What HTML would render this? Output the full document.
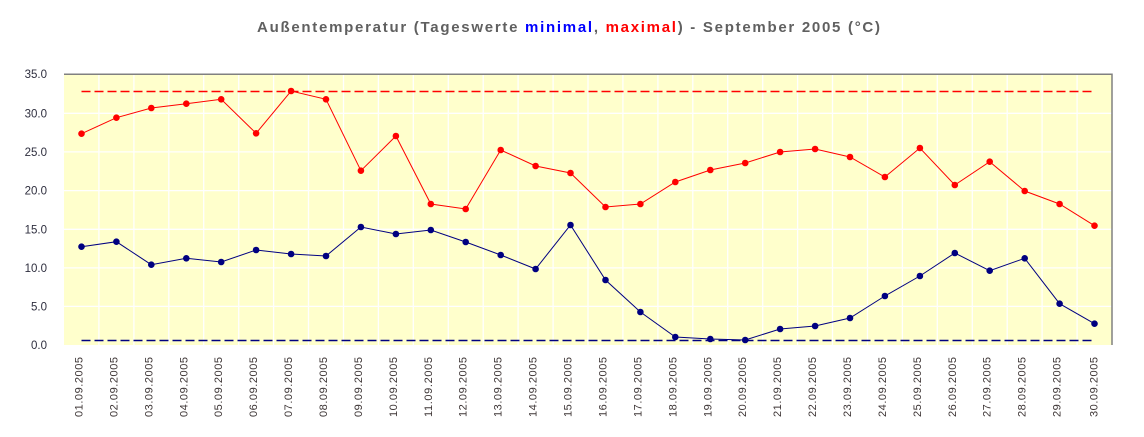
<!DOCTYPE html>
<html>
<head>
<meta charset="utf-8">
<style>
html,body{margin:0;padding:0;background:#fff;}
svg{display:block;}
text{font-family:"Liberation Sans",Arial,sans-serif;}
</style>
</head>
<body>
<svg width="1144" height="437" viewBox="0 0 1144 437" xmlns="http://www.w3.org/2000/svg">
<rect x="0" y="0" width="1144" height="437" fill="#fff"/>
<!-- title -->
<text x="257" y="32" font-size="15" font-weight="bold" fill="#606060" textLength="623" lengthAdjust="spacing">Außentemperatur (Tageswerte <tspan fill="#0000ff">minimal</tspan>, <tspan fill="#ff0000">maximal</tspan>) - September 2005 (°C)</text>

<!-- plot area -->
<rect x="64" y="74" width="1048" height="271" fill="#ffffcc"/>
<g stroke="#ffffff" stroke-width="1.3">
<line x1="64" y1="113.3" x2="1112" y2="113.3"/>
<line x1="64" y1="151.9" x2="1112" y2="151.9"/>
<line x1="64" y1="190.6" x2="1112" y2="190.6"/>
<line x1="64" y1="229.3" x2="1112" y2="229.3"/>
<line x1="64" y1="267.9" x2="1112" y2="267.9"/>
<line x1="64" y1="306.4" x2="1112" y2="306.4"/>
<line x1="98.9" y1="74" x2="98.9" y2="345"/>
<line x1="133.9" y1="74" x2="133.9" y2="345"/>
<line x1="168.8" y1="74" x2="168.8" y2="345"/>
<line x1="203.7" y1="74" x2="203.7" y2="345"/>
<line x1="238.7" y1="74" x2="238.7" y2="345"/>
<line x1="273.6" y1="74" x2="273.6" y2="345"/>
<line x1="308.5" y1="74" x2="308.5" y2="345"/>
<line x1="343.5" y1="74" x2="343.5" y2="345"/>
<line x1="378.4" y1="74" x2="378.4" y2="345"/>
<line x1="413.3" y1="74" x2="413.3" y2="345"/>
<line x1="448.3" y1="74" x2="448.3" y2="345"/>
<line x1="483.2" y1="74" x2="483.2" y2="345"/>
<line x1="518.1" y1="74" x2="518.1" y2="345"/>
<line x1="553.1" y1="74" x2="553.1" y2="345"/>
<line x1="588.0" y1="74" x2="588.0" y2="345"/>
<line x1="622.9" y1="74" x2="622.9" y2="345"/>
<line x1="657.9" y1="74" x2="657.9" y2="345"/>
<line x1="692.8" y1="74" x2="692.8" y2="345"/>
<line x1="727.7" y1="74" x2="727.7" y2="345"/>
<line x1="762.7" y1="74" x2="762.7" y2="345"/>
<line x1="797.6" y1="74" x2="797.6" y2="345"/>
<line x1="832.5" y1="74" x2="832.5" y2="345"/>
<line x1="867.5" y1="74" x2="867.5" y2="345"/>
<line x1="902.4" y1="74" x2="902.4" y2="345"/>
<line x1="937.3" y1="74" x2="937.3" y2="345"/>
<line x1="972.3" y1="74" x2="972.3" y2="345"/>
<line x1="1007.2" y1="74" x2="1007.2" y2="345"/>
<line x1="1042.1" y1="74" x2="1042.1" y2="345"/>
<line x1="1077.1" y1="74" x2="1077.1" y2="345"/>
</g>
<g stroke="#808080" stroke-width="1.5" fill="none">
<polyline points="64,74.3 1112,74.3 1112,345"/>
</g>

<!-- dashed extreme lines -->
<line x1="81.5" y1="91.5" x2="1094.5" y2="91.5" stroke="#ff0000" stroke-width="1.5" stroke-dasharray="9,4"/>
<line x1="81.5" y1="340.5" x2="1094.5" y2="340.5" stroke="#000080" stroke-width="1.5" stroke-dasharray="9,4"/>

<!-- max series -->
<polyline fill="none" stroke="#ff0000" stroke-width="1" points="81.5,133.7 116.4,117.7 151.3,108 186.3,103.7 221.2,99.3 256.1,133.3 291.1,91 326,99.3 360.9,170.7 395.9,136 430.8,204 465.7,209 500.7,150 535.6,166 570.5,173 605.5,207 640.4,204 675.3,182 710.3,170 745.2,163 780.1,152 815.1,149 850,157 884.9,177 919.9,148 954.8,185 989.7,161.7 1024.7,191 1059.6,204 1094.5,225.7"/>
<g fill="#ff0000">
<circle cx="81.5" cy="133.7" r="3.3"/><circle cx="116.4" cy="117.7" r="3.3"/><circle cx="151.3" cy="108" r="3.3"/><circle cx="186.3" cy="103.7" r="3.3"/><circle cx="221.2" cy="99.3" r="3.3"/><circle cx="256.1" cy="133.3" r="3.3"/><circle cx="291.1" cy="91" r="3.3"/><circle cx="326" cy="99.3" r="3.3"/><circle cx="360.9" cy="170.7" r="3.3"/><circle cx="395.9" cy="136" r="3.3"/><circle cx="430.8" cy="204" r="3.3"/><circle cx="465.7" cy="209" r="3.3"/><circle cx="500.7" cy="150" r="3.3"/><circle cx="535.6" cy="166" r="3.3"/><circle cx="570.5" cy="173" r="3.3"/><circle cx="605.5" cy="207" r="3.3"/><circle cx="640.4" cy="204" r="3.3"/><circle cx="675.3" cy="182" r="3.3"/><circle cx="710.3" cy="170" r="3.3"/><circle cx="745.2" cy="163" r="3.3"/><circle cx="780.1" cy="152" r="3.3"/><circle cx="815.1" cy="149" r="3.3"/><circle cx="850" cy="157" r="3.3"/><circle cx="884.9" cy="177" r="3.3"/><circle cx="919.9" cy="148" r="3.3"/><circle cx="954.8" cy="185" r="3.3"/><circle cx="989.7" cy="161.7" r="3.3"/><circle cx="1024.7" cy="191" r="3.3"/><circle cx="1059.6" cy="204" r="3.3"/><circle cx="1094.5" cy="225.7" r="3.3"/>
</g>

<!-- min series -->
<polyline fill="none" stroke="#000080" stroke-width="1" points="81.5,246.7 116.4,241.7 151.3,264.7 186.3,258.3 221.2,262 256.1,250 291.1,254 326,256 360.9,227 395.9,234 430.8,230 465.7,242 500.7,255 535.6,269 570.5,225 605.5,280 640.4,312 675.3,337 710.3,339 745.2,340 780.1,329 815.1,326 850,318 884.9,296 919.9,276 954.8,253 989.7,270.7 1024.7,258.3 1059.6,303.7 1094.5,323.7"/>
<g fill="#000080">
<circle cx="81.5" cy="246.7" r="3.3"/><circle cx="116.4" cy="241.7" r="3.3"/><circle cx="151.3" cy="264.7" r="3.3"/><circle cx="186.3" cy="258.3" r="3.3"/><circle cx="221.2" cy="262" r="3.3"/><circle cx="256.1" cy="250" r="3.3"/><circle cx="291.1" cy="254" r="3.3"/><circle cx="326" cy="256" r="3.3"/><circle cx="360.9" cy="227" r="3.3"/><circle cx="395.9" cy="234" r="3.3"/><circle cx="430.8" cy="230" r="3.3"/><circle cx="465.7" cy="242" r="3.3"/><circle cx="500.7" cy="255" r="3.3"/><circle cx="535.6" cy="269" r="3.3"/><circle cx="570.5" cy="225" r="3.3"/><circle cx="605.5" cy="280" r="3.3"/><circle cx="640.4" cy="312" r="3.3"/><circle cx="675.3" cy="337" r="3.3"/><circle cx="710.3" cy="339" r="3.3"/><circle cx="745.2" cy="340" r="3.3"/><circle cx="780.1" cy="329" r="3.3"/><circle cx="815.1" cy="326" r="3.3"/><circle cx="850" cy="318" r="3.3"/><circle cx="884.9" cy="296" r="3.3"/><circle cx="919.9" cy="276" r="3.3"/><circle cx="954.8" cy="253" r="3.3"/><circle cx="989.7" cy="270.7" r="3.3"/><circle cx="1024.7" cy="258.3" r="3.3"/><circle cx="1059.6" cy="303.7" r="3.3"/><circle cx="1094.5" cy="323.7" r="3.3"/>
</g>

<!-- y axis labels -->
<g font-size="11.5" fill="#2e2e3e" text-anchor="end">
<text x="47" y="78">35.0</text>
<text x="47" y="117.3">30.0</text>
<text x="47" y="156">25.0</text>
<text x="47" y="194.6">20.0</text>
<text x="47" y="233.3">15.0</text>
<text x="47" y="272">10.0</text>
<text x="47" y="310.5">5.0</text>
<text x="47" y="349">0.0</text>
</g>

<!-- x axis labels -->
<g font-size="11" fill="#3e3636" text-anchor="end">
<text transform="translate(82.5,357) rotate(-90)" textLength="60" lengthAdjust="spacing">01.09.2005</text>
<text transform="translate(117.4,357) rotate(-90)" textLength="60" lengthAdjust="spacing">02.09.2005</text>
<text transform="translate(152.3,357) rotate(-90)" textLength="60" lengthAdjust="spacing">03.09.2005</text>
<text transform="translate(187.3,357) rotate(-90)" textLength="60" lengthAdjust="spacing">04.09.2005</text>
<text transform="translate(222.2,357) rotate(-90)" textLength="60" lengthAdjust="spacing">05.09.2005</text>
<text transform="translate(257.1,357) rotate(-90)" textLength="60" lengthAdjust="spacing">06.09.2005</text>
<text transform="translate(292.1,357) rotate(-90)" textLength="60" lengthAdjust="spacing">07.09.2005</text>
<text transform="translate(327,357) rotate(-90)" textLength="60" lengthAdjust="spacing">08.09.2005</text>
<text transform="translate(361.9,357) rotate(-90)" textLength="60" lengthAdjust="spacing">09.09.2005</text>
<text transform="translate(396.9,357) rotate(-90)" textLength="60" lengthAdjust="spacing">10.09.2005</text>
<text transform="translate(431.8,357) rotate(-90)" textLength="60" lengthAdjust="spacing">11.09.2005</text>
<text transform="translate(466.7,357) rotate(-90)" textLength="60" lengthAdjust="spacing">12.09.2005</text>
<text transform="translate(501.7,357) rotate(-90)" textLength="60" lengthAdjust="spacing">13.09.2005</text>
<text transform="translate(536.6,357) rotate(-90)" textLength="60" lengthAdjust="spacing">14.09.2005</text>
<text transform="translate(571.5,357) rotate(-90)" textLength="60" lengthAdjust="spacing">15.09.2005</text>
<text transform="translate(606.5,357) rotate(-90)" textLength="60" lengthAdjust="spacing">16.09.2005</text>
<text transform="translate(641.4,357) rotate(-90)" textLength="60" lengthAdjust="spacing">17.09.2005</text>
<text transform="translate(676.3,357) rotate(-90)" textLength="60" lengthAdjust="spacing">18.09.2005</text>
<text transform="translate(711.3,357) rotate(-90)" textLength="60" lengthAdjust="spacing">19.09.2005</text>
<text transform="translate(746.2,357) rotate(-90)" textLength="60" lengthAdjust="spacing">20.09.2005</text>
<text transform="translate(781.1,357) rotate(-90)" textLength="60" lengthAdjust="spacing">21.09.2005</text>
<text transform="translate(816.1,357) rotate(-90)" textLength="60" lengthAdjust="spacing">22.09.2005</text>
<text transform="translate(851,357) rotate(-90)" textLength="60" lengthAdjust="spacing">23.09.2005</text>
<text transform="translate(885.9,357) rotate(-90)" textLength="60" lengthAdjust="spacing">24.09.2005</text>
<text transform="translate(920.9,357) rotate(-90)" textLength="60" lengthAdjust="spacing">25.09.2005</text>
<text transform="translate(955.8,357) rotate(-90)" textLength="60" lengthAdjust="spacing">26.09.2005</text>
<text transform="translate(990.7,357) rotate(-90)" textLength="60" lengthAdjust="spacing">27.09.2005</text>
<text transform="translate(1025.7,357) rotate(-90)" textLength="60" lengthAdjust="spacing">28.09.2005</text>
<text transform="translate(1060.6,357) rotate(-90)" textLength="60" lengthAdjust="spacing">29.09.2005</text>
<text transform="translate(1097.5,357) rotate(-90)" textLength="60" lengthAdjust="spacing">30.09.2005</text>
</g>
</svg>
</body>
</html>
